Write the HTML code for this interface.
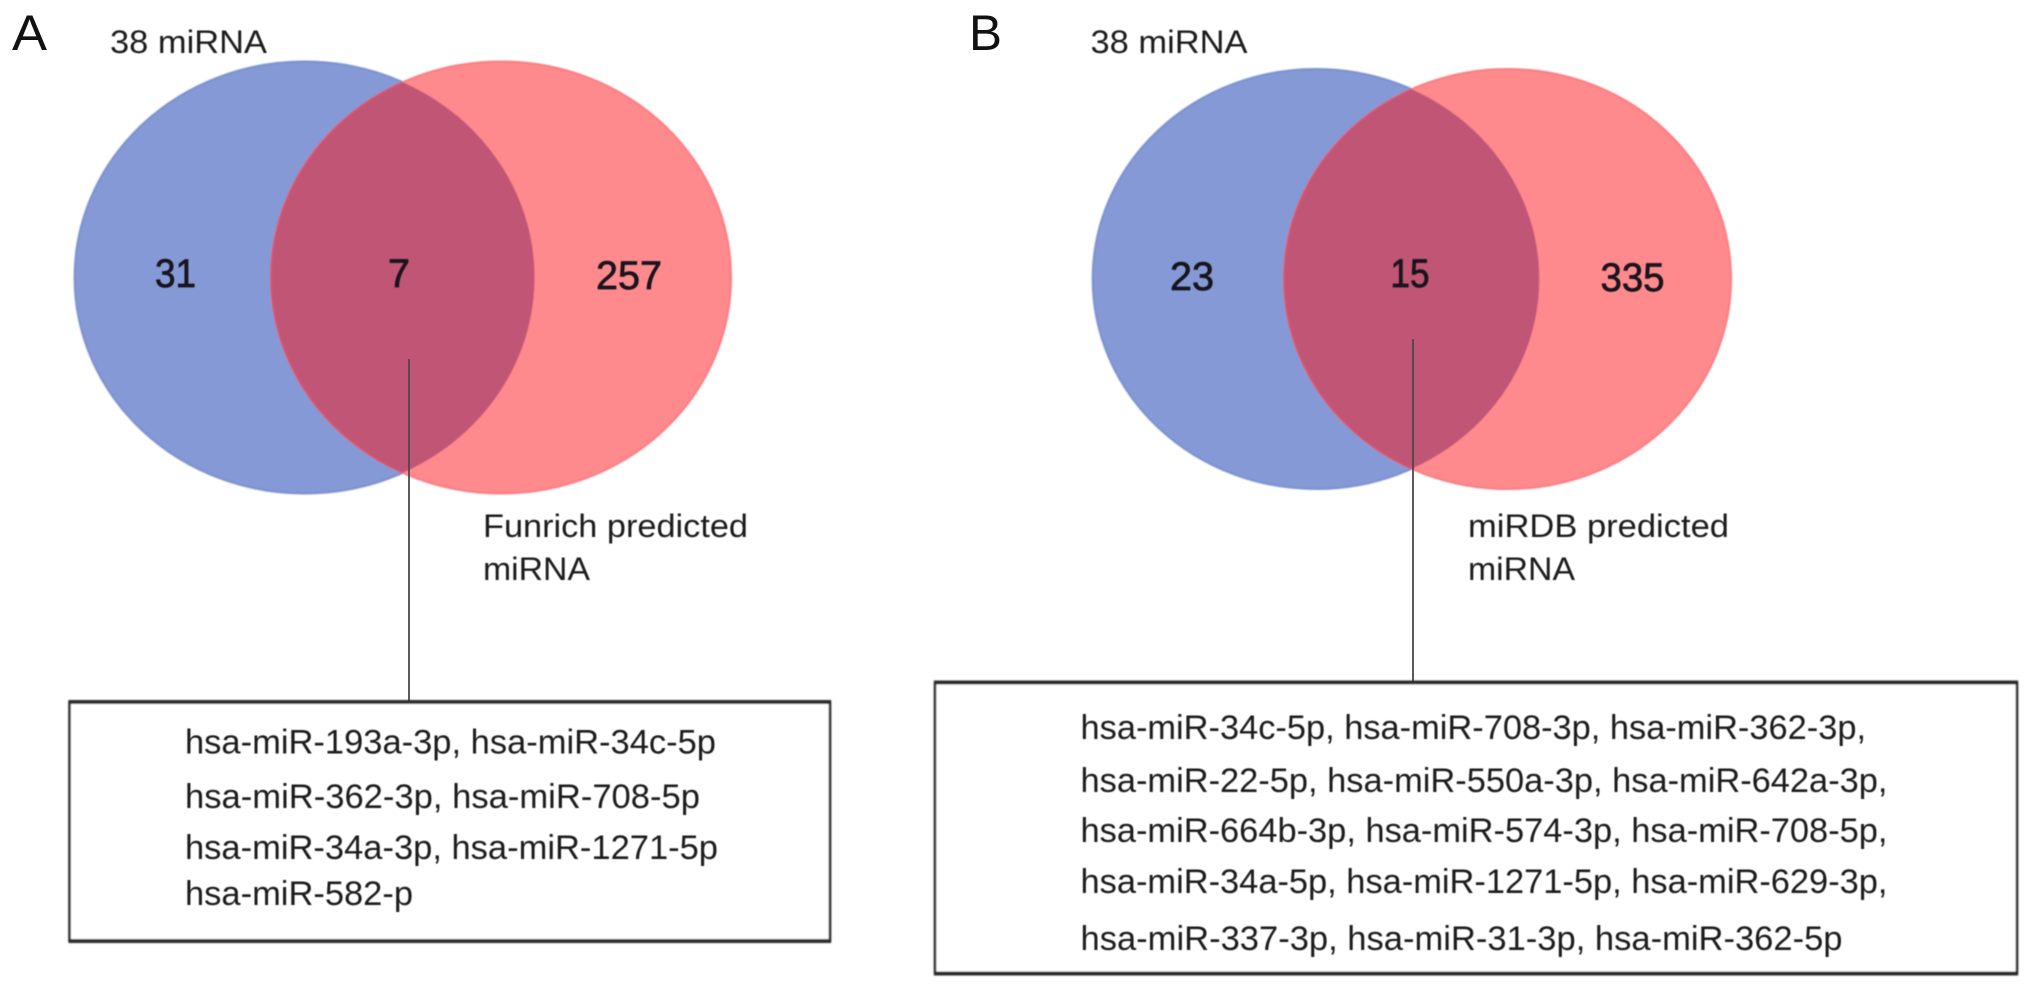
<!DOCTYPE html>
<html lang="en">
<head>
<meta charset="utf-8">
<title>Venn diagrams of predicted miRNA</title>
<style>
html,body{margin:0;padding:0;background:#fff;}
svg{display:block;}
text{font-family:"Liberation Sans",sans-serif;fill:#1c1c1c;}
.panel{font-size:50px;fill:#111;}
.lab{font-size:32px;fill:#1c1c1c;filter:url(#softText);}
.num{font-size:40px;fill:#15121a;stroke:#15121a;stroke-width:.7px;filter:url(#softText);}
.mir{font-size:34px;fill:#1c1c1c;filter:url(#softText);}
.box{fill:#fff;stroke:#2b2b2b;stroke-width:2.6px;}
.edge{stroke:#2b2b2b;stroke-width:4px;}
.lead{stroke:#4a4a4a;stroke-width:1.8px;}
</style>
</head>
<body>
<svg xmlns="http://www.w3.org/2000/svg" width="2032" height="990" viewBox="0 0 2032 990">
<defs>
<filter id="soft" x="-5%" y="-5%" width="110%" height="110%"><feGaussianBlur stdDeviation="0.7"/></filter>
<filter id="softText" x="-5%" y="-20%" width="110%" height="140%"><feGaussianBlur stdDeviation="0.5"/></filter>
<clipPath id="clipA"><ellipse cx="304.6" cy="277.5" rx="230" ry="216"/></clipPath>
<clipPath id="clipB"><ellipse cx="1316" cy="279" rx="223.3" ry="210"/></clipPath>
</defs>
<rect width="2032" height="990" fill="#fff"/>

<g>
<text class="panel" x="12" y="50" textLength="35" lengthAdjust="spacingAndGlyphs">A</text>
<text class="lab" x="110" y="53" textLength="157" lengthAdjust="spacingAndGlyphs">38 miRNA</text>
<g filter="url(#soft)">
<ellipse cx="304.6" cy="277.5" rx="230" ry="216" fill="#8599d6" stroke="#7a90d0" stroke-width="2"/>
<ellipse cx="501" cy="277.5" rx="230" ry="216" fill="#fe8a8e" stroke="#f97c82" stroke-width="2"/>
<ellipse cx="501" cy="277.5" rx="230" ry="216" fill="#c05575" stroke="#d8566f" stroke-width="2" clip-path="url(#clipA)"/>
</g>
<text class="num" x="155" y="287" textLength="41" lengthAdjust="spacingAndGlyphs">31</text>
<text class="num" x="388" y="287" textLength="22" lengthAdjust="spacingAndGlyphs">7</text>
<text class="num" x="596" y="289" textLength="66" lengthAdjust="spacingAndGlyphs">257</text>
<line class="lead" x1="409" y1="359" x2="409" y2="701"/>
<text class="lab" x="483" y="537" textLength="265" lengthAdjust="spacingAndGlyphs">Funrich predicted</text>
<text class="lab" x="483" y="580" textLength="107" lengthAdjust="spacingAndGlyphs">miRNA</text>
<g filter="url(#soft)">
<rect class="box" x="69.5" y="702" width="760.5" height="239"/>
<line class="edge" x1="68.5" y1="702" x2="831" y2="702"/>
<line class="edge" x1="68.5" y1="941" x2="831" y2="941"/>
</g>
<g>
<text class="mir" x="185" y="753.5" textLength="531" lengthAdjust="spacingAndGlyphs">hsa-miR-193a-3p, hsa-miR-34c-5p</text>
<text class="mir" x="185" y="808" textLength="515" lengthAdjust="spacingAndGlyphs">hsa-miR-362-3p, hsa-miR-708-5p</text>
<text class="mir" x="185" y="859" textLength="533" lengthAdjust="spacingAndGlyphs">hsa-miR-34a-3p, hsa-miR-1271-5p</text>
<text class="mir" x="185" y="905" textLength="228" lengthAdjust="spacingAndGlyphs">hsa-miR-582-p</text>
</g>
</g>

<g>
<text class="panel" x="969" y="50" textLength="33" lengthAdjust="spacingAndGlyphs">B</text>
<text class="lab" x="1090.5" y="53" textLength="157" lengthAdjust="spacingAndGlyphs">38 miRNA</text>
<g filter="url(#soft)">
<ellipse cx="1316" cy="279" rx="223.3" ry="210" fill="#8599d6" stroke="#7a90d0" stroke-width="2"/>
<ellipse cx="1507.5" cy="279" rx="223.5" ry="210" fill="#fe8a8e" stroke="#f97c82" stroke-width="2"/>
<ellipse cx="1507.5" cy="279" rx="223.5" ry="210" fill="#c05575" stroke="#d8566f" stroke-width="2" clip-path="url(#clipB)"/>
</g>
<text class="num" x="1170" y="290" textLength="44" lengthAdjust="spacingAndGlyphs">23</text>
<text class="num" x="1390.5" y="287" textLength="39" lengthAdjust="spacingAndGlyphs">15</text>
<text class="num" x="1600.5" y="291" textLength="64" lengthAdjust="spacingAndGlyphs">335</text>
<line class="lead" x1="1413" y1="339" x2="1413" y2="682"/>
<text class="lab" x="1468" y="537" textLength="261" lengthAdjust="spacingAndGlyphs">miRDB predicted</text>
<text class="lab" x="1468" y="580" textLength="107" lengthAdjust="spacingAndGlyphs">miRNA</text>
<g filter="url(#soft)">
<rect class="box" x="935" y="682.5" width="1082" height="291"/>
<line class="edge" x1="934" y1="682.5" x2="2018" y2="682.5"/>
<line class="edge" x1="934" y1="973.5" x2="2018" y2="973.5"/>
</g>
<g>
<text class="mir" x="1080.5" y="739" textLength="785.5" lengthAdjust="spacingAndGlyphs">hsa-miR-34c-5p, hsa-miR-708-3p, hsa-miR-362-3p,</text>
<text class="mir" x="1080.5" y="792" textLength="807" lengthAdjust="spacingAndGlyphs">hsa-miR-22-5p, hsa-miR-550a-3p, hsa-miR-642a-3p,</text>
<text class="mir" x="1080.5" y="842" textLength="807" lengthAdjust="spacingAndGlyphs">hsa-miR-664b-3p, hsa-miR-574-3p, hsa-miR-708-5p,</text>
<text class="mir" x="1080.5" y="893" textLength="807" lengthAdjust="spacingAndGlyphs">hsa-miR-34a-5p, hsa-miR-1271-5p, hsa-miR-629-3p,</text>
<text class="mir" x="1080.5" y="950" textLength="762" lengthAdjust="spacingAndGlyphs">hsa-miR-337-3p, hsa-miR-31-3p, hsa-miR-362-5p</text>
</g>
</g>
</svg>
</body>
</html>
